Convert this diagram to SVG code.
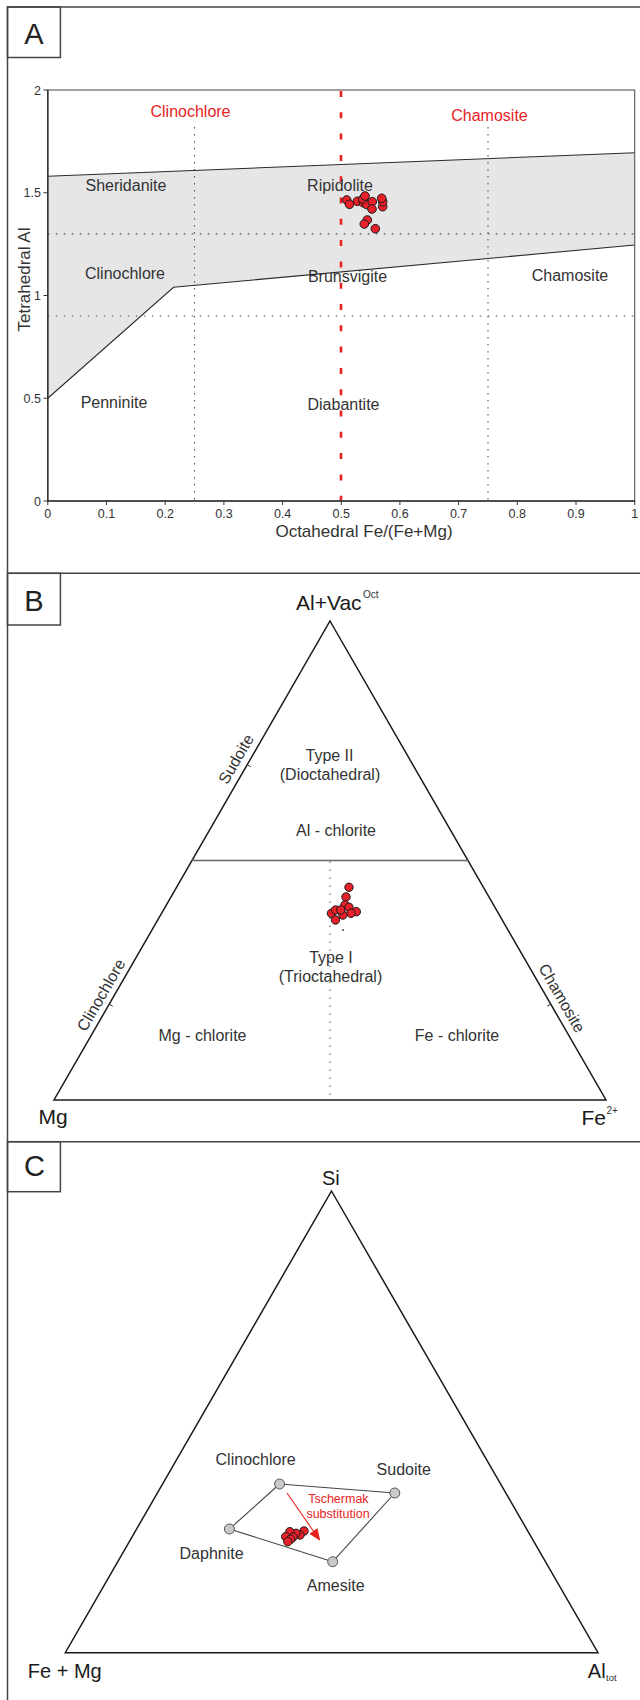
<svg xmlns="http://www.w3.org/2000/svg" width="640" height="1700" viewBox="0 0 640 1700">
<style>
text{font-family:"Liberation Sans",Arial,sans-serif;fill:#333}
.lab{font-size:16px}
.tick{font-size:12.5px;fill:#333}
.red{fill:#e8231f}
.big{font-size:29px;fill:#222}
.vert{font-size:21px;fill:#1a1a1a}
.frame{fill:none;stroke:#444;stroke-width:1.5}
.dot{stroke:#555;stroke-width:1.1;stroke-dasharray:1.5 5.5;fill:none}
.pt{fill:#e8202a;stroke:#1a1a1a;stroke-width:1}
.gpt{fill:#c9c9c9;stroke:#555;stroke-width:1}
.edge{fill:none;stroke:#1a1a1a;stroke-width:1.5}
</style>
<defs>
<marker id="arr" markerUnits="userSpaceOnUse" markerWidth="12" markerHeight="10" refX="11" refY="5" orient="auto">
<path d="M0,0 L12,5 L0,10 Z" fill="#e8231f"/>
</marker>
</defs>
<rect width="640" height="1700" fill="#fff"/>

<!-- outer frames -->
<g id="frames">
<path class="frame" d="M7.5,1700 V7 H640 M7.5,573.3 H640 M7.5,1141.7 H640"/>
<rect class="frame" x="7.5" y="7" width="52.9" height="50.5"/>
<rect class="frame" x="7.5" y="573.3" width="52.9" height="51.7"/>
<rect class="frame" x="7.5" y="1141.7" width="52.9" height="50"/>
<text class="big" x="34" y="43.5" text-anchor="middle">A</text>
<text class="big" x="34" y="610.5" text-anchor="middle">B</text>
<text class="big" x="34.5" y="1175.5" text-anchor="middle">C</text>
</g>

<!-- Panel A -->
<g id="panel-a">
<polygon points="47.8,176.3 634.7,152.7 634.7,245 173.5,287.3 47.8,398.25" fill="#e6e6e7"/>
<g id="a-grid">
<line class="dot" x1="47.8" y1="233.85" x2="634.7" y2="233.85" style="stroke-dasharray:1.6 6.4"/>
<line class="dot" x1="47.8" y1="316.05" x2="634.7" y2="316.05" style="stroke-dasharray:1.6 6.4"/>
<line class="dot" x1="194.5" y1="127" x2="194.5" y2="501"/>
<line class="dot" x1="488" y1="127" x2="488" y2="501"/>
<line x1="341" y1="91" x2="341" y2="501" stroke="#e8231f" stroke-width="2.6" stroke-dasharray="6 15.3"/>
</g>
<g id="a-boundaries" fill="none" stroke="#2a2a2a" stroke-width="1.1">
<line x1="47.8" y1="176.3" x2="634.7" y2="152.7"/>
<polyline points="47.8,398.25 173.5,287.3 634.7,245"/>
</g>
<g id="a-axes">
<rect x="47.8" y="90" width="586.9" height="411" fill="none" stroke="#555" stroke-width="1.1"/>
<path d="M47.8,90 V501 H634.7" fill="none" stroke="#333" stroke-width="1.5"/>
<path d="M43.5,90 H47.8 M43.5,192.75 H47.8 M43.5,295.5 H47.8 M43.5,398.25 H47.8 M43.5,501 H47.8" stroke="#333" stroke-width="1"/>
<path d="M47.8,501 v4 M106.5,501 v4 M165.2,501 v4 M223.9,501 v4 M282.6,501 v4 M341.3,501 v4 M399.9,501 v4 M458.6,501 v4 M517.3,501 v4 M576,501 v4 M634.7,501 v4" stroke="#333" stroke-width="1"/>
<g class="tick" text-anchor="end">
<text class="tick" x="41" y="94.5">2</text>
<text class="tick" x="41" y="197">1.5</text>
<text class="tick" x="41" y="300">1</text>
<text class="tick" x="41" y="402.5">0.5</text>
<text class="tick" x="41" y="505.5">0</text>
</g>
<g text-anchor="middle">
<text class="tick" x="47.8" y="518">0</text>
<text class="tick" x="106.5" y="518">0.1</text>
<text class="tick" x="165.2" y="518">0.2</text>
<text class="tick" x="223.9" y="518">0.3</text>
<text class="tick" x="282.6" y="518">0.4</text>
<text class="tick" x="341.3" y="518">0.5</text>
<text class="tick" x="399.9" y="518">0.6</text>
<text class="tick" x="458.6" y="518">0.7</text>
<text class="tick" x="517.3" y="518">0.8</text>
<text class="tick" x="576" y="518">0.9</text>
<text class="tick" x="634.7" y="518">1</text>
</g>
<text x="364" y="537" text-anchor="middle" font-size="17">Octahedral Fe/(Fe+Mg)</text>
<text transform="translate(30,279.5) rotate(-90)" text-anchor="middle" font-size="17">Tetrahedral Al</text>
</g>
<g id="a-labels" class="lab" text-anchor="middle">
<text class="lab red" x="190.5" y="117" font-size="16.5">Clinochlore</text>
<text class="lab red" x="489.5" y="121" font-size="16.5">Chamosite</text>
<text class="lab" x="126" y="191">Sheridanite</text>
<text class="lab" x="340" y="191">Ripidolite</text>
<text class="lab" x="125" y="279">Clinochlore</text>
<text class="lab" x="347.5" y="282">Brunsvigite</text>
<text class="lab" x="570" y="281">Chamosite</text>
<text class="lab" x="114" y="408">Penninite</text>
<text class="lab" x="343.5" y="410">Diabantite</text>
</g>
<g id="a-points">
<circle class="pt" cx="346.7" cy="200" r="4.3"/>
<circle class="pt" cx="349.5" cy="204.3" r="4.3"/>
<circle class="pt" cx="357.3" cy="201.3" r="4.3"/>
<circle class="pt" cx="363.3" cy="202.7" r="4.3"/>
<circle class="pt" cx="366.7" cy="204.5" r="4.3"/>
<circle class="pt" cx="362.7" cy="199" r="4.3"/>
<circle class="pt" cx="365" cy="196" r="4.3"/>
<circle class="pt" cx="372.3" cy="201.7" r="4.3"/>
<circle class="pt" cx="372" cy="209" r="4.3"/>
<circle class="pt" cx="382.7" cy="206.7" r="4.3"/>
<circle class="pt" cx="382.7" cy="201.7" r="4.3"/>
<circle class="pt" cx="381.7" cy="198.3" r="4.3"/>
<circle class="pt" cx="367.3" cy="220" r="4.3"/>
<circle class="pt" cx="364.3" cy="224" r="4.3"/>
<circle class="pt" cx="375.3" cy="228.7" r="4.3"/>
</g>
</g>

<!-- Panel B -->
<g id="panel-b">
<polygon class="edge" points="330,621 606,1100 54,1100"/>
<line x1="192" y1="860.5" x2="468" y2="860.5" stroke="#666" stroke-width="1.3"/>
<line class="dot" x1="330" y1="861.5" x2="330" y2="1100" style="stroke-dasharray:1.5 6.5"/>
<path d="M247.2,764.7 l3.5,2 M109.2,1004.2 l3.5,2 M550.8,1004.2 l-3.5,2" stroke="#333" stroke-width="1"/>
<g id="b-vertices">
<text class="vert" x="296" y="610">Al+Vac</text>
<text x="363" y="598" font-size="10" fill="#1a1a1a">Oct</text>
<text class="vert" x="38.5" y="1124">Mg</text>
<text class="vert" x="581.5" y="1125">Fe</text>
<text x="606.5" y="1114" font-size="10" fill="#1a1a1a">2+</text>
</g>
<g id="b-edge-labels" class="lab" text-anchor="middle" fill="#444">
<text class="lab" transform="translate(236,759) rotate(-60)" dy="0.35em">Sudoite</text>
<text class="lab" transform="translate(101,995) rotate(-60)" dy="0.35em">Clinochlore</text>
<text class="lab" transform="translate(562,998) rotate(60)" dy="0.35em">Chamosite</text>
</g>
<g id="b-labels" text-anchor="middle">
<text class="lab" x="329.5" y="761">Type II</text>
<text class="lab" x="330" y="780">(Dioctahedral)</text>
<text class="lab" x="336" y="836">Al - chlorite</text>
<text class="lab" x="331" y="962.5">Type I</text>
<text class="lab" x="330.5" y="982">(Trioctahedral)</text>
<text class="lab" x="202.5" y="1041">Mg - chlorite</text>
<text class="lab" x="457" y="1041">Fe - chlorite</text>
</g>
<g id="b-points">
<circle cx="343" cy="930" r="0.9" fill="#333"/>
<circle class="pt" cx="349" cy="887.3" r="4.2"/>
<circle class="pt" cx="346" cy="897" r="4.2"/>
<circle class="pt" cx="345" cy="905" r="4.2"/>
<circle class="pt" cx="349" cy="907.3" r="4.2"/>
<circle class="pt" cx="356.3" cy="911.7" r="4.2"/>
<circle class="pt" cx="351" cy="913.3" r="4.2"/>
<circle class="pt" cx="331.4" cy="913.3" r="4.2"/>
<circle class="pt" cx="335.5" cy="920" r="4.2"/>
<circle class="pt" cx="342.9" cy="915" r="4.2"/>
<circle class="pt" cx="335.5" cy="910" r="4.2"/>
<circle class="pt" cx="340.8" cy="910" r="4.2"/>
</g>
</g>

<!-- Panel C -->
<g id="panel-c">
<polygon class="edge" points="331.5,1191 598,1652.7 65.3,1652.7"/>
<g id="c-vertices">
<text class="vert" x="322" y="1185" style="font-size:20px">Si</text>
<text class="vert" x="27.8" y="1678" style="font-size:20px">Fe + Mg</text>
<text class="vert" x="587.8" y="1678" style="font-size:20px">Al</text>
<text x="606" y="1681" font-size="9.5" fill="#1a1a1a">tot</text>
</g>
<g id="connectors" fill="none" stroke="#444" stroke-width="1.1">
<line x1="279.6" y1="1484" x2="394.8" y2="1493"/>
<line x1="394.8" y1="1493" x2="332.7" y2="1561.7"/>
<line x1="332.7" y1="1561.7" x2="229.4" y2="1529"/>
<line x1="229.4" y1="1529" x2="279.6" y2="1484"/>
<line x1="287" y1="1493" x2="319.6" y2="1540" stroke="#e8231f" stroke-width="1.1" marker-end="url(#arr)"/>
</g>
<g id="node-clinochlore"><circle class="gpt" cx="279.6" cy="1484" r="5"/><text class="lab" x="255.6" y="1465" text-anchor="middle">Clinochlore</text></g>
<g id="node-sudoite"><circle class="gpt" cx="394.8" cy="1493" r="5"/><text class="lab" x="403.7" y="1474.5" text-anchor="middle">Sudoite</text></g>
<g id="node-daphnite"><circle class="gpt" cx="229.4" cy="1529" r="5"/><text class="lab" x="211.6" y="1558.5" text-anchor="middle">Daphnite</text></g>
<g id="node-amesite"><circle class="gpt" cx="332.7" cy="1561.7" r="5"/><text class="lab" x="335.7" y="1591" text-anchor="middle">Amesite</text></g>
<g id="c-arrow-label" text-anchor="middle">
<text class="red" x="338.4" y="1503.3" font-size="12.5">Tschermak</text>
<text class="red" x="338" y="1518.3" font-size="12.5">substitution</text>
</g>
<g id="c-points">
<circle class="pt" cx="304" cy="1531" r="4.2"/>
<circle class="pt" cx="300" cy="1535" r="4.2"/>
<circle class="pt" cx="296" cy="1533.3" r="4.2"/>
<circle class="pt" cx="289.8" cy="1531.7" r="4.2"/>
<circle class="pt" cx="293" cy="1537" r="4.2"/>
<circle class="pt" cx="285.7" cy="1536.7" r="4.2"/>
<circle class="pt" cx="290.6" cy="1539.3" r="4.2"/>
<circle class="pt" cx="287.8" cy="1541.7" r="4.2"/>
</g>
</g>
</svg>
